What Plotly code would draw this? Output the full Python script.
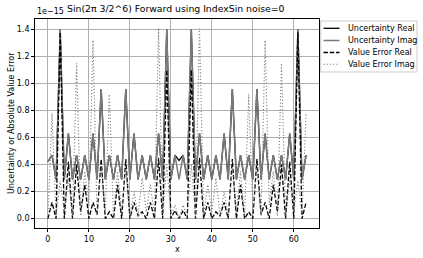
import plotly.graph_objects as go

# ---- data (values in units of 1e-15) ----
x = list(range(64))
unc_real = [0.42,0.47,0.29,1.40,0.29,0.63,0.29,0.47,0.29,0.47,0.29,0.63,0.29,0.96,0.29,0.47,
            0.29,0.47,0.29,0.96,0.29,0.63,0.29,0.47,0.29,0.47,0.29,0.63,0.29,1.40,0.29,0.47,
            0.43,0.47,0.29,1.40,0.29,0.63,0.29,0.47,0.29,0.47,0.29,0.63,0.29,0.96,0.29,0.47,
            0.29,0.47,0.29,0.96,0.29,0.63,0.29,0.47,0.29,0.47,0.29,0.63,0.29,1.40,0.29,0.47]
unc_imag = [0.42,0.47,0.29,1.40,0.29,0.63,0.29,0.47,0.29,0.47,0.29,0.63,0.29,0.96,0.29,0.47,
            0.29,0.47,0.29,0.96,0.29,0.63,0.29,0.47,0.29,0.47,0.29,0.63,0.29,1.40,0.29,0.47,
            0.29,0.47,0.29,1.40,0.29,0.63,0.29,0.47,0.29,0.47,0.29,0.63,0.29,0.96,0.29,0.47,
            0.29,0.47,0.29,0.96,0.29,0.63,0.29,0.47,0.29,0.47,0.29,0.63,0.29,1.40,0.29,0.47]
err_real = [0.00,0.12,0.00,1.38,0.00,0.42,0.00,0.40,0.05,0.25,0.00,0.12,0.03,0.44,0.00,0.05,
            0.00,0.25,0.00,0.44,0.00,0.12,0.02,0.05,0.00,0.12,0.00,0.45,0.00,1.10,0.00,0.06,
            0.00,0.06,0.00,1.10,0.00,0.45,0.00,0.12,0.00,0.05,0.02,0.12,0.00,0.44,0.00,0.25,
            0.00,0.05,0.00,0.44,0.03,0.12,0.00,0.25,0.05,0.40,0.00,0.42,0.00,1.38,0.00,0.12]
err_imag = [0.00,0.78,0.02,0.28,0.05,0.30,0.02,1.15,0.02,0.35,0.10,1.32,0.02,0.38,0.05,0.92,
            0.02,0.35,0.05,0.38,0.02,0.20,0.02,0.30,0.05,0.25,0.02,1.41,0.02,0.40,0.02,0.10,
            0.00,0.10,0.02,0.40,0.02,1.41,0.02,0.25,0.05,0.30,0.02,0.20,0.02,0.38,0.05,0.35,
            0.02,0.92,0.05,0.38,0.02,1.32,0.10,0.35,0.02,1.15,0.02,0.30,0.05,0.28,0.02,0.78]

xticks = [0, 10, 20, 30, 40, 50, 60]
yticks = [0.0, 0.2, 0.4, 0.6, 0.8, 1.0, 1.2, 1.4]
ytick_text = ["0.0", "0.2", "0.4", "0.6", "0.8", "1.0", "1.2", "1.4"]

names = ["Uncertainty Real", "Uncertainty Imag", "Value Error Real", "Value Error Imag"]
series = [unc_real, unc_imag, err_real, err_imag]
styles = [dict(color="black", width=1.3, dash="solid"),
          dict(color="#7a7a7a", width=1.5, dash="solid"),
          dict(color="black", width=1.3, dash="4.4px,1.9px"),
          dict(color="#808080", width=1.1, dash="1.2px,2px")]

W, H = 423, 258
L, R, T, B = 35, 319, 19, 228
FONT = "DejaVu Sans, sans-serif"

fig = go.Figure()
for n, s, st in zip(names, series, styles):
    fig.add_trace(go.Scatter(x=x, y=s, mode="lines", name=n, line=st, showlegend=False))

def px(xp):
    return (xp - L) / (R - L)

def py(yp):
    return (B - yp) / (B - T)

shapes = []
annotations = []
# legend box
shapes.append(dict(type="rect", xref="paper", yref="paper", x0=px(320.7), x1=px(417),
                   y0=py(72), y1=py(21), line=dict(color="#cccccc", width=1), fillcolor="white"))
rows = [28.3, 40.5, 52.5, 64.3]
for n, st, ry in zip(names, styles, rows):
    shapes.append(dict(type="line", xref="paper", yref="paper", x0=px(323.5), x1=px(339.5),
                       y0=py(ry), y1=py(ry), line=st))
    annotations.append(dict(text=n, xref="paper", yref="paper", x=px(345.5), y=py(ry),
                            xanchor="left", yanchor="middle", showarrow=False,
                            font=dict(family=FONT, size=8, color="black")))

# offset text, title, axis labels
annotations.append(dict(text="1e\u221215", xref="paper", yref="paper", x=0, y=py(17.5),
                        xanchor="left", yanchor="bottom", showarrow=False,
                        font=dict(family=FONT, size=8, color="black")))
annotations.append(dict(text="Sin(2\u03c0 3/2^6) Forward using IndexSin noise=0",
                        xref="paper", yref="paper", x=px(176), y=py(16), xanchor="center",
                        yanchor="bottom", showarrow=False,
                        font=dict(family=FONT, size=9.3, color="black")))
annotations.append(dict(text="x", xref="paper", yref="paper", x=0.5, y=py(243),
                        xanchor="center", yanchor="top", showarrow=False,
                        font=dict(family=FONT, size=8, color="black")))
annotations.append(dict(text="Uncertainty or Absolute Value Error", xref="paper", yref="paper",
                        x=px(5), y=0.5, xanchor="left", yanchor="middle", textangle=-90,
                        showarrow=False, font=dict(family=FONT, size=8, color="black")))

axis_common = dict(showline=True, mirror=True, linecolor="black", linewidth=0.8,
                   ticks="outside", ticklen=3, tickwidth=0.8, tickcolor="black",
                   showgrid=True, gridcolor="#b0b0b0", gridwidth=0.8, zeroline=False,
                   tickfont=dict(family=FONT, size=8, color="black"))

fig.update_layout(
    width=W, height=H,
    margin=dict(l=L, r=W - R, t=T, b=H - B, pad=0),
    paper_bgcolor="white", plot_bgcolor="white",
    xaxis=dict(range=[-3.15, 66.15], tickvals=xticks, **axis_common),
    yaxis=dict(range=[-0.07, 1.478], tickvals=yticks, ticktext=ytick_text, **axis_common),
    shapes=shapes, annotations=annotations,
)

fig.write_html("out.html")
